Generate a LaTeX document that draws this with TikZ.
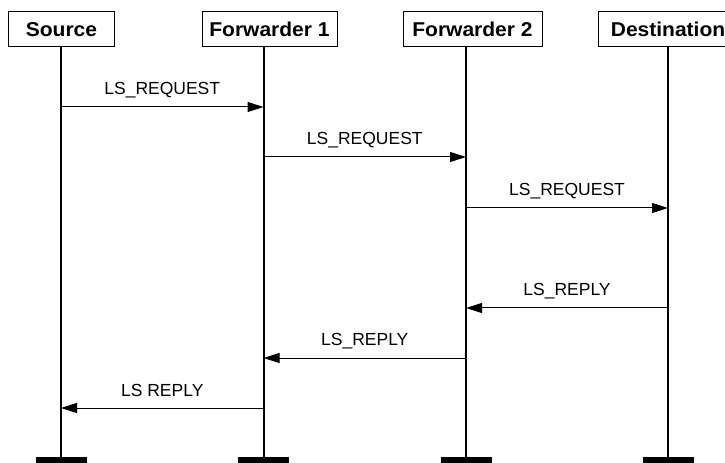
\documentclass[tikz,border=0pt]{standalone}
\usepackage{fontspec}
\setmainfont{Liberation Sans}
\newfontfamily\headfont{Liberation Sans}[FakeStretch=1.05]
\usetikzlibrary{arrows.meta}
\begin{document}
\begin{tikzpicture}[x=1bp,y=-1bp,
  head/.style={draw,line width=1bp,minimum height=35bp,inner sep=0pt,text height=14bp,text depth=0pt,
    font=\fontsize{20bp}{24bp}\headfont\bfseries},
  lifeline/.style={line width=2bp},
  bar/.style={fill=black,minimum width=51bp,minimum height=14bp,inner sep=0pt,anchor=north},
  msg/.style={line width=1bp,-{Triangle[length=16bp,width=10bp]}},
  lbl/.style={anchor=base,yshift=12bp,inner sep=0pt,font=\fontsize{17.5bp}{21bp}\selectfont}]
\useasboundingbox (0,0) rectangle (725,463);
% headers
\node[head,minimum width=105bp] (src) at (61.5,29.5) {Source};
\node[head,minimum width=135bp] (fw1) at (269.5,29.5) {Forwarder 1};
\node[head,minimum width=139bp] (fw2) at (472.5,29.5) {Forwarder 2};
\node[head,minimum width=140bp] (dst) at (668,29.5) {Destination};
% bottom bars
\node[bar] (srcbar) at (61,457) {};
\node[bar] (fw1bar) at (263.5,457) {};
\node[bar] (fw2bar) at (466,457) {};
\node[bar] (dstbar) at (668,457) {};
% lifelines
\draw[lifeline] (src.south -| srcbar.north) -- (srcbar.north);
\draw[lifeline] (fw1.south -| fw1bar.north) -- (fw1bar.north);
\draw[lifeline] (fw2.south -| fw2bar.north) -- (fw2bar.north);
\draw[lifeline] (dst.south -| dstbar.north) -- (dstbar.north);
% message endpoints
\coordinate (m1a) at (61,107);  \coordinate (m1b) at (263.5,107);
\coordinate (m2a) at (263.5,157); \coordinate (m2b) at (466,157);
\coordinate (m3a) at (466,208); \coordinate (m3b) at (668,208);
\coordinate (m4a) at (668,308); \coordinate (m4b) at (466,308);
\coordinate (m5a) at (466,358); \coordinate (m5b) at (263.5,358);
\coordinate (m6a) at (263.5,408); \coordinate (m6b) at (61,408);
% messages
\draw[msg] (m1a) -- node[lbl] {LS\_REQUEST} (m1b);
\draw[msg] (m2a) -- node[lbl] {LS\_REQUEST} (m2b);
\draw[msg] (m3a) -- node[lbl] {LS\_REQUEST} (m3b);
\draw[msg] (m4a) -- node[lbl] {LS\_REPLY} (m4b);
\draw[msg] (m5a) -- node[lbl] {LS\_REPLY} (m5b);
\draw[msg] (m6a) -- node[lbl] {LS REPLY} (m6b);
\end{tikzpicture}
\end{document}
